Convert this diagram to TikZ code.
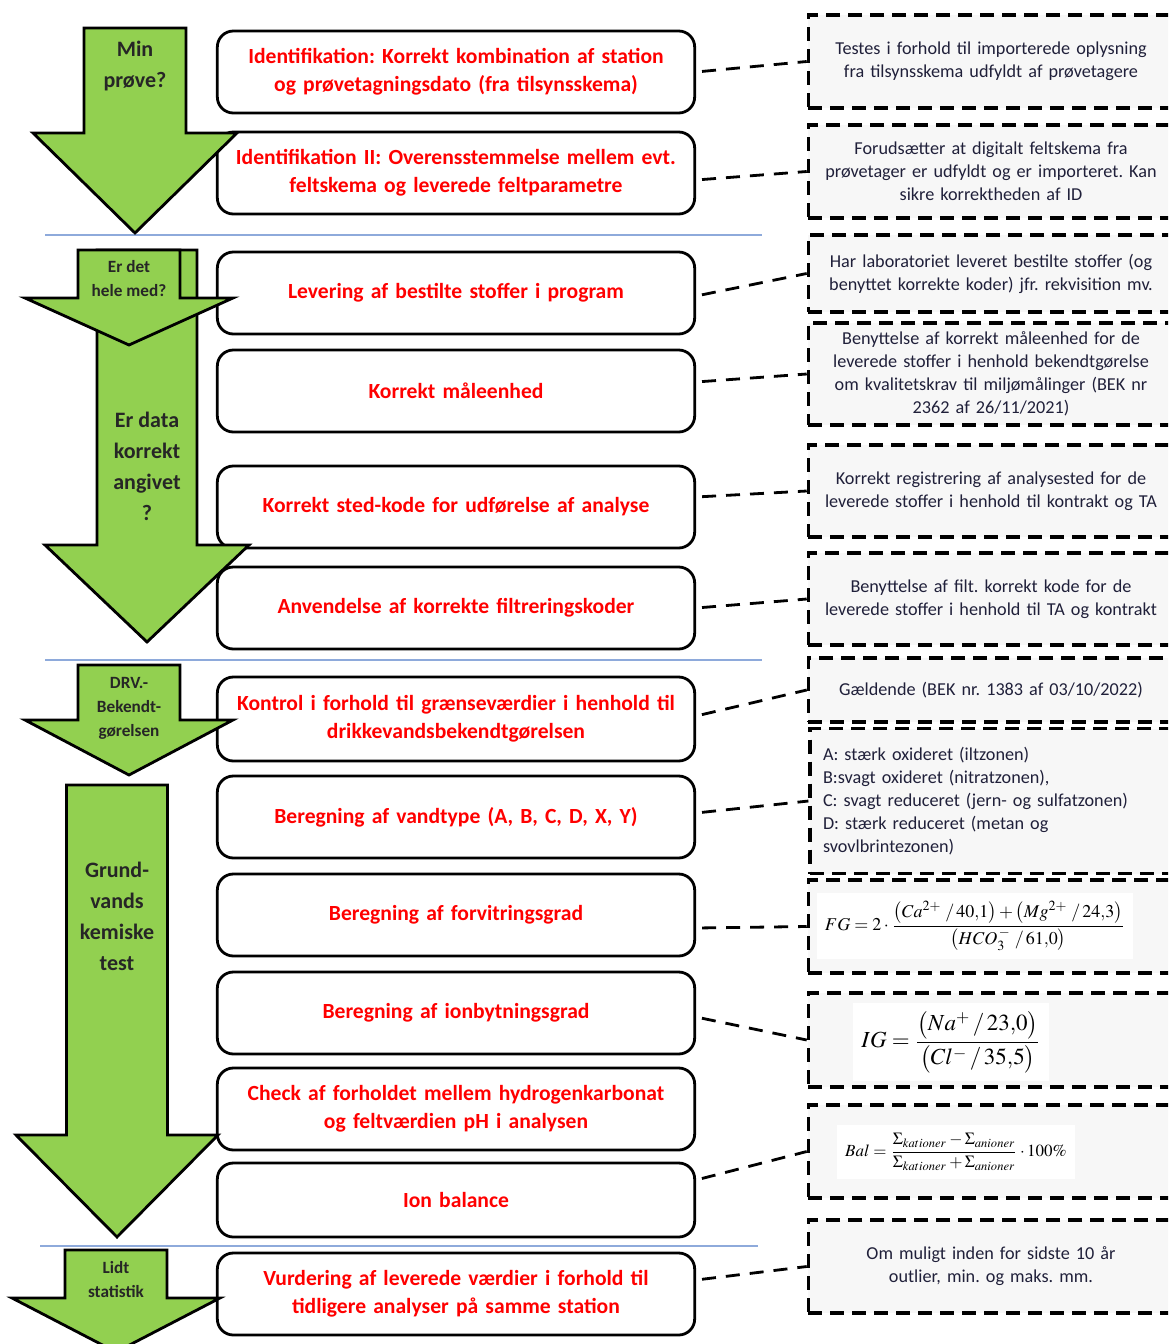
\documentclass[tikz,border=0pt]{standalone}
\usepackage{amsmath}
\usepackage{mathptmx}
\usepackage{fontspec}
\setmainfont{Carlito}
\frenchspacing
\usetikzlibrary{calc}

\definecolor{arrowgreen}{HTML}{92D050}
\definecolor{checkred}{HTML}{FF0000}
\definecolor{notegray}{HTML}{F7F7F7}
\definecolor{notetext}{HTML}{20203A}
\definecolor{sepblue}{HTML}{8EAADB}

\tikzset{
  chkbox/.style={draw, line width=1.4pt, rounded corners=8pt, fill=white,
    minimum width=238pt, minimum height=41pt, text width=232pt, align=center,
    text=checkred, font=\bfseries\fontsize{10.8}{14}\selectfont},
  notebox/.style={draw, line width=1.6pt, dash pattern=on 7pt off 4pt, fill=notegray,
    minimum width=181pt, text width=176pt, align=center,
    text=notetext, font=\fontsize{9.1}{11.5}\selectfont},
  link/.style={line width=1.4pt, dash pattern=on 7pt off 5pt, shorten <=3pt},
  bigarrow/.style={draw, line width=1.4pt, fill=arrowgreen, line join=miter},
  arrowlbl/.style={align=center, text=black!85, font=\bfseries\fontsize{11}{15.5}\selectfont},
  smalllbl/.style={align=center, text=black!85, font=\bfseries\fontsize{8.6}{12}\selectfont},
  sepline/.style={draw=sepblue, line width=0.6pt},
  formula/.style={fill=white, inner sep=4pt}
}

\begin{document}
\begin{tikzpicture}[x=0.5pt,y=-0.5pt]
  \clip (0,0) rectangle (1168,1344);
  \fill[white] (0,0) rectangle (1168,1344);

  % section lines
  \draw[sepline] (45,235) -- (762,235);
  \draw[sepline] (45,660) -- (762,660);
  \draw[sepline] (40,1246) -- (758,1246);

  % checks
  \node[chkbox] (chk1) at (456,72) {Identifikation: Korrekt kombination af station\\og prøvetagningsdato (fra tilsynsskema)};
  \node[chkbox] (chk2) at (456,173) {Identifikation II: Overensstemmelse mellem evt.\\feltskema og leverede feltparametre};
  \node[chkbox] (chk3) at (456,293) {Levering af bestilte stoffer i program};
  \node[chkbox] (chk4) at (456,391) {Korrekt måleenhed};
  \node[chkbox] (chk5) at (456,507) {Korrekt sted-kode for udførelse af analyse};
  \node[chkbox] (chk6) at (456,608) {Anvendelse af korrekte filtreringskoder};
  \node[chkbox, minimum height=42pt] (chk7) at (456,719) {Kontrol i forhold til grænseværdier i henhold til\\drikkevandsbekendtgørelsen};
  \node[chkbox] (chk8) at (456,817) {Beregning af vandtype (A, B, C, D, X, Y)};
  \node[chkbox] (chk9) at (456,915) {Beregning af forvitringsgrad};
  \node[chkbox] (chk10) at (456,1013) {Beregning af ionbytningsgrad};
  \node[chkbox] (chk11) at (456,1109) {Check af forholdet mellem hydrogenkarbonat\\og feltværdien pH i analysen};
  \node[chkbox, minimum height=37pt] (chk12) at (456,1200) {Ion balance};
  \node[chkbox] (chk13) at (456,1294) {Vurdering af leverede værdier i forhold til\\tidligere analyser på samme station};

  % green arrows: centre / shaft half / head half / top / head / tip
  \foreach \cx/\sh/\hh/\top/\hy/\tip in {135/51/102/28/133/233, 147/50/102/250/545/642,
      129/51/104/250/298/345, 129/51/104/665/720/775, 117/50.5/101/785/1135/1237,
      116/51/104/1250/1298/1352} {
    \draw[bigarrow] (\cx-\sh,\top) -- (\cx+\sh,\top) -- (\cx+\sh,\hy) -- (\cx+\hh,\hy)
      -- (\cx,\tip) -- (\cx-\hh,\hy) -- (\cx-\sh,\hy) -- cycle;
  }

  \node[arrowlbl] (minprove) at (135,66) {Min\\prøve?};
  \node[smalllbl] (heled) at (129,279) {Er det\\hele med?};
  \node[arrowlbl] (korrekt) at (147,466) {Er data\\korrekt\\angivet\\?};
  \node[smalllbl] (drv) at (129,708) {DRV.-\\Bekendt-\\gørelsen};
  \node[arrowlbl] (grundvand) at (117,916) {Grund-\\vands\\kemiske\\test};
  \node[smalllbl] (statistik) at (116,1280) {Lidt\\statistik};

  % notes
  \node[notebox, minimum height=46.5pt] (note1) at (991,61.5) {Testes i forhold til importerede oplysning\\fra tilsynsskema udfyldt af prøvetagere};
  \node[notebox, minimum height=46.5pt] (note2) at (991,171.5) {Forudsætter at digitalt feltskema fra\\prøvetager er udfyldt og er importeret. Kan\\sikre korrektheden af ID};
  \node[notebox, minimum height=38.5pt] (note3) at (991,273.5) {Har laboratoriet leveret bestilte stoffer (og\\benyttet korrekte koder) jfr. rekvisition mv.};
  \node[notebox, minimum height=51pt] (note4) at (991,374) {Benyttelse af korrekt måleenhed for de\\leverede stoffer i henhold bekendtgørelse\\om kvalitetskrav til miljømålinger (BEK nr\\2362 af 26/11/2021)};
  \node[notebox, minimum height=46pt] (note5) at (991,491) {Korrekt registrering af analysested for de\\leverede stoffer i henhold til kontrakt og TA};
  \node[notebox, minimum height=46pt] (note6) at (991,599) {Benyttelse af filt. korrekt kode for de\\leverede stoffer i henhold til TA og kontrakt};
  \node[notebox, minimum height=32pt] (note7) at (991,690) {Gældende (BEK nr. 1383 af 03/10/2022)};
  \node[notebox, minimum height=72.5pt, text width=168pt, align=left] (note8) at (991,801) {A: stærk oxideret (iltzonen)\\B:svagt oxideret (nitratzonen),\\C: svagt reduceret (jern- og sulfatzonen)\\D: stærk reduceret (metan og\\svovlbrintezonen)};
  \node[notebox, minimum height=46.5pt] (note9) at (991,926.5) {};
  \node[notebox, minimum height=47pt] (note10) at (991,1040) {};
  \node[notebox, minimum height=46.5pt] (note11) at (991,1151.5) {};
  \node[notebox, minimum height=46.5pt] (note12) at (991,1266.5) {Om muligt inden for sidste 10 år\\outlier, min. og maks. mm.};

  % formulas
  \node[formula, font=\fontsize{9}{11}\selectfont] (fg) at (975,926)
    {$FG = 2\cdot\dfrac{\bigl(Ca^{2+}\;/\,40{,}1\bigr)+\bigl(Mg^{2+}\;/\,24{,}3\bigr)}{\bigl(HCO_3^{\,-}\;/\,61{,}0\bigr)}$};
  \node[formula, font=\fontsize{11.5}{13}\selectfont] (ig) at (951,1042)
    {$IG = \dfrac{\bigl(Na^{+}\,/\,23{,}0\bigr)}{\bigl(Cl^{-}\,/\,35{,}5\bigr)}$};
  \node[formula, font=\fontsize{8.5}{10}\selectfont] (bal) at (956,1152)
    {$Bal = \dfrac{\Sigma_{kationer}-\Sigma_{anioner}}{\Sigma_{kationer}+\Sigma_{anioner}}\cdot 100\%$};

  % links
  \draw[link] (chk1.east) -- (note1.west);
  \draw[link] ([yshift=-3.5pt]chk2.east) -- (note2.west);
  \draw[link] ([yshift=-1.5pt]chk3.east) -- (note3.west);
  \draw[link] ([yshift=4.5pt]chk4.east) -- (note4.west);
  \draw[link] ([yshift=5pt]chk5.east) -- (note5.west);
  \draw[link] (chk6.east) -- (note6.west);
  \draw[link] ([yshift=1.5pt]chk7.east) -- (note7.west);
  \draw[link] ([yshift=2pt]chk8.east) -- (note8.west);
  \draw[link] ([yshift=-6.5pt]chk9.east) -- (note9.west);
  \draw[link] ([yshift=-2pt]chk10.east) -- (note10.west);
  \draw[link] ([yshift=10pt]chk12.east) -- (note11.west);
  \draw[link] ([yshift=7pt]chk13.east) -- (note12.west);
\end{tikzpicture}
\end{document}
